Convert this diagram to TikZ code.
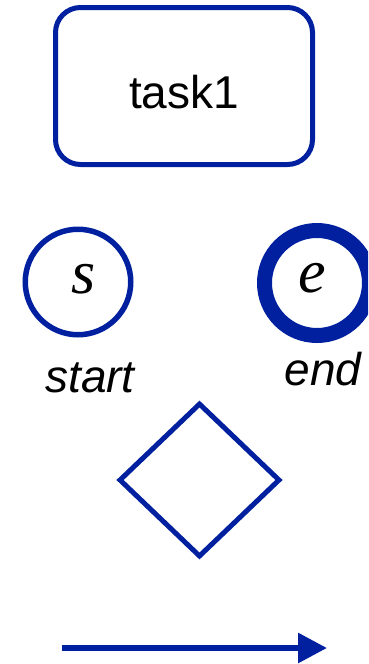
\documentclass[tikz,border=0pt]{standalone}
\usepackage{fontspec}
\setmainfont{Liberation Sans}
\newfontfamily\mathser{Liberation Serif}
\usetikzlibrary{shapes.geometric,arrows.meta}
\definecolor{bpblue}{RGB}{0,32,160}
\tikzset{
  taskbox/.style={draw=bpblue, line width=5pt, rounded corners=25pt, minimum width=257pt, minimum height=157pt, inner sep=0pt, text height=45pt, text depth=0pt, font=\fontsize{46}{50}\selectfont},
  startev/.style={draw=bpblue, circle, line width=5.5pt, minimum size=105.5pt, inner sep=0pt},
  endev/.style={draw=bpblue, circle, line width=15pt, minimum size=105pt, inner sep=0pt},
  gatew/.style={draw=bpblue, diamond, line width=5pt, minimum width=161pt, minimum height=154pt, inner sep=0pt, miter limit=10},
  evletter/.style={font=\mathser\itshape\fontsize{62}{66}\selectfont, inner sep=0pt, anchor=base},
  evlabel/.style={font=\itshape\fontsize{46}{50}\selectfont, inner sep=0pt, anchor=base},
  flow/.style={draw=bpblue, line width=6pt, -{Triangle[length=29pt,width=29pt]}}
}
\begin{document}
\begin{tikzpicture}[x=1pt,y=-1pt]
\useasboundingbox (0,0) rectangle (368,664);
\clip (0,0) rectangle (368,664);
\node[taskbox] (task) at (184,86) {task1};
\node[startev] (start) at (78,282) {};
\node[evletter] (sl) at (84,293) {s};
\node[evlabel] (startlbl) at (90,392) {start};
\node[endev] (end) at (317,283) {};
\node[evletter] (el) at (312,292) {e};
\node[evlabel] (endlbl) at (323,385) {end};
\node[gatew] (gw) at (199.5,480) {};
\coordinate (fa) at (62,648);
\coordinate (fb) at (327,648);
\draw[flow] (fa) -- (fb);
\end{tikzpicture}
\end{document}
